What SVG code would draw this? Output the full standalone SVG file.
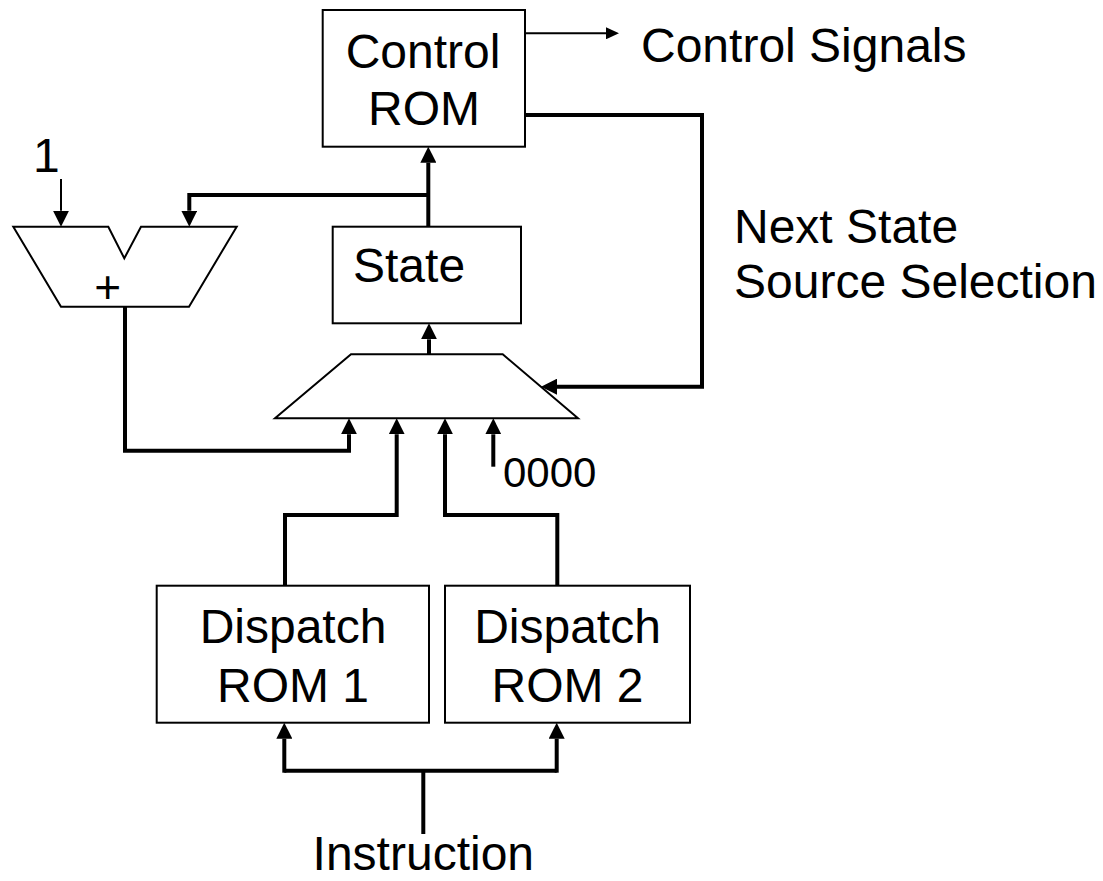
<svg xmlns="http://www.w3.org/2000/svg" width="1103" height="881" viewBox="0 0 1103 881">
<style>
.box{fill:#fff;stroke:#000;stroke-width:2}
.w{fill:none;stroke:#000;stroke-width:4;stroke-linejoin:miter;stroke-linecap:butt}
.t{fill:none;stroke:#000;stroke-width:2}
text{font-family:"Liberation Sans",Arial,sans-serif;font-size:48px;fill:#000}
.c{text-anchor:middle}
</style>
<defs>
<marker id="ah" markerUnits="userSpaceOnUse" viewBox="0 0 16 16" markerWidth="16" markerHeight="16" refX="0" refY="8" orient="auto"><path d="M0,0 L16,8 L0,16 z" fill="#000"/></marker>
<marker id="as" markerUnits="userSpaceOnUse" viewBox="0 0 13 12" markerWidth="13" markerHeight="12" refX="0" refY="6" orient="auto"><path d="M0,0 L13,6 L0,12 z" fill="#000"/></marker>
</defs>
<rect width="1103" height="881" fill="#fff"/>
<g id="connectors">
<path class="w" d="M428.3,226.7 V162.7" marker-end="url(#ah)"/>
<path class="w" d="M428.3,195 H189.3 V210.7" marker-end="url(#ah)"/>
<path class="t" d="M61,179 V210.7" marker-end="url(#ah)"/>
<path class="w" d="M125,306.7 V450.7 H349 V434.3" marker-end="url(#ah)"/>
<path class="w" d="M429,354.3 V339.3" marker-end="url(#ah)"/>
<path class="w" d="M285,585.7 V515 H396.7 V434.3" marker-end="url(#ah)"/>
<path class="w" d="M557.3,585.7 V515 H445 V434.3" marker-end="url(#ah)"/>
<path class="w" d="M493.3,466.7 V434.3" marker-end="url(#ah)"/>
<path class="w" d="M525,115 H702 V386.7 H557" marker-end="url(#ah)"/>
<path class="t" d="M525,33.3 H606" marker-end="url(#as)"/>
<path class="w" d="M423.3,834 V770.7"/>
<path class="w" d="M284.3,770.7 H556.7"/>
<path class="w" d="M284.3,772.7 V738.7" marker-end="url(#ah)"/>
<path class="w" d="M556.7,772.7 V738.7" marker-end="url(#ah)"/>
</g>
<g id="control-rom">
<rect class="box" x="322.7" y="10" width="202.3" height="136.7"/>
<text class="c" x="423" y="68">Control</text>
<text class="c" x="424" y="125">ROM</text>
</g>
<g id="state">
<rect class="box" x="332.7" y="226.7" width="188.3" height="96.6"/>
<text x="353" y="282">State</text>
</g>
<g id="adder">
<polygon class="box" points="13.3,226.7 108.3,226.7 124.3,258.3 141,226.7 236.7,226.7 189,306.7 61,306.7"/>
<text class="c" x="107.7" y="303" style="font-size:46px">+</text>
</g>
<g id="mux">
<polygon class="box" points="351,354.3 502.7,354.3 578,418.3 275,418.3"/>
</g>
<g id="dispatch-rom-1">
<rect class="box" x="156.7" y="585.7" width="272.3" height="137"/>
<text class="c" x="293" y="643">Dispatch</text>
<text class="c" x="293" y="702">ROM 1</text>
</g>
<g id="dispatch-rom-2">
<rect class="box" x="445" y="585.7" width="245" height="137"/>
<text class="c" x="567.5" y="643">Dispatch</text>
<text class="c" x="567.5" y="702">ROM 2</text>
</g>
<g id="labels">
<text x="33" y="172">1</text>
<text x="503" y="486.7" style="font-size:42px">0000</text>
<text x="641" y="61.7">Control Signals</text>
<text x="734" y="243">Next State</text>
<text x="734" y="298">Source Selection</text>
<text class="c" x="423.3" y="870">Instruction</text>
</g>
</svg>
